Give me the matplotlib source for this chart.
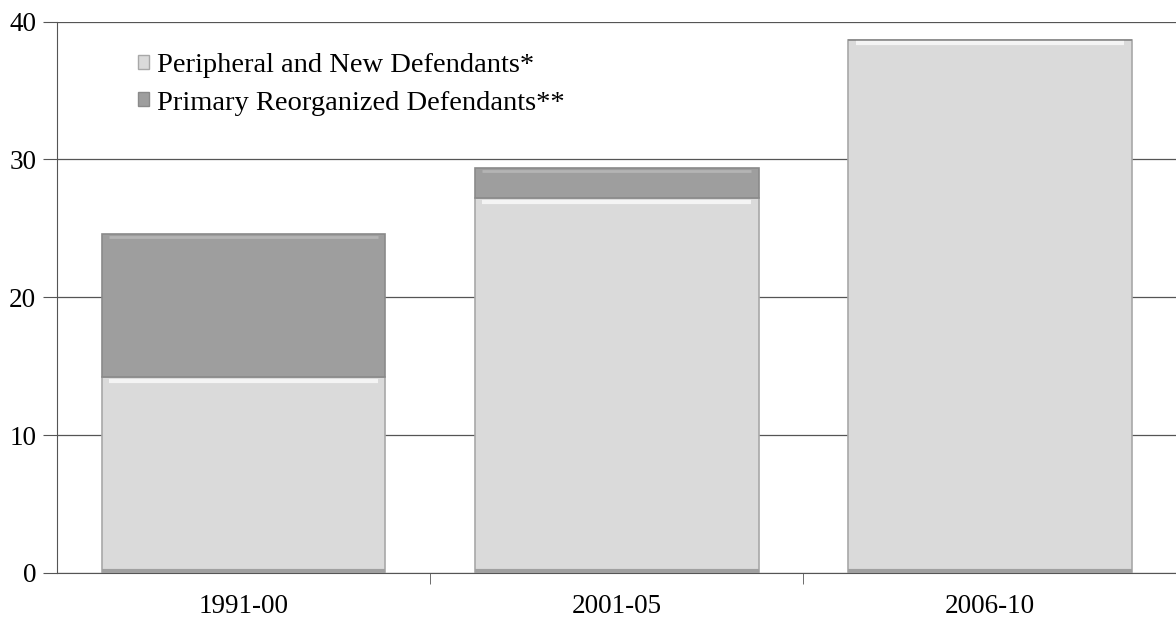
import numpy as np
import matplotlib
matplotlib.use("Agg")
import matplotlib.pyplot as plt
from matplotlib.patches import Patch

periods = ["1991-00", "2001-05", "2006-10"]
peripheral = [14.2, 27.2, 38.7]
primary = [10.4, 2.2, 0.0]
yticks = [0, 10, 20, 30, 40]

light = "#dadada"
dark = "#9e9e9e"

plt.rcParams["font.family"] = ["Liberation Serif", "DejaVu Serif"]

fig = plt.figure(figsize=(11.76, 6.2), dpi=100)
ax = fig.add_axes([0.0485, 0.076, 0.952, 0.889])

x = np.arange(len(periods))
width = 0.76
bottoms = np.array(peripheral)

ax.bar(x, peripheral, width, color=light, edgecolor="#a8a8a8", linewidth=1.2, zorder=3)
ax.bar(x, primary, width, bottom=bottoms, color=dark, edgecolor="#8a8a8a", linewidth=1.2, zorder=3)

# soft highlight along the top of each segment
for i in range(len(periods)):
    ax.hlines(peripheral[i] - 0.25, x[i] - width / 2 + 0.02, x[i] + width / 2 - 0.02,
              color="#f4f4f4", linewidth=3, zorder=4)
    if primary[i] > 0:
        ax.hlines(peripheral[i] + primary[i] - 0.2, x[i] - width / 2 + 0.02, x[i] + width / 2 - 0.02,
                  color="#b4b4b4", linewidth=2, zorder=4)
    # darker base of each bar
    ax.hlines(0.15, x[i] - width / 2, x[i] + width / 2, color="#a0a0a0", linewidth=3, zorder=4)

ax.set_xlim(-0.5, 2.5)
ax.set_ylim(0, 40)
ax.set_yticks(yticks)
ax.set_xticks(x)
ax.set_xticklabels(periods, fontsize=19.5)
ax.set_xticks([0.5, 1.5, 2.5], minor=True)
ax.tick_params(axis="x", which="major", length=0, pad=15)
ax.tick_params(axis="x", which="minor", length=8, color="#555555", direction="out")
ax.tick_params(axis="y", length=10, color="#555555", labelsize=19.5, pad=5)

ax.yaxis.grid(True, color="#555555", linewidth=0.9, zorder=0)
for side in ["right", "top"]:
    ax.spines[side].set_visible(False)
ax.spines["left"].set_color("#555555")
ax.spines["bottom"].set_color("#555555")

handles = [Patch(facecolor=light, edgecolor="#a8a8a8", label="Peripheral and New Defendants*"),
           Patch(facecolor=dark, edgecolor="#8a8a8a", label="Primary Reorganized Defendants**")]
ax.legend(handles=handles, loc="upper left", bbox_to_anchor=(0.052, 0.985), frameon=False,
          fontsize=20.5, handlelength=0.38, handleheight=0.38, handletextpad=0.3,
          labelspacing=0.45, borderpad=0.3)

fig.savefig("out.png", dpi=100)
